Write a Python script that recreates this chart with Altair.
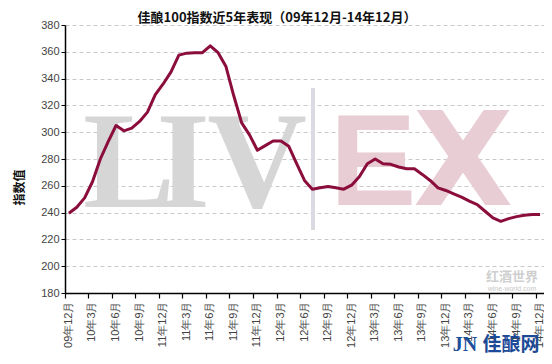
import json
import altair as alt
import pandas as pd

title_text = "佳酿100指数近5年表现（09年12月-14年12月）"
y_title = "指数值"

months = ["09年12月"] + [f"{y}年{m}月" for y in ["10", "11", "12", "13", "14"] for m in range(1, 13)]
tick_values = months[::3]
tick_labels = ["09年12月", "10年3月", "10年6月", "10年9月", "11年12月", "11年3月", "11年6月",
               "11年9月", "11年12月", "12年3月", "12年6月", "12年9月", "12年12月", "13年3月",
               "13年6月", "13年9月", "13年12月", "14年3月", "14年6月", "14年9月", "14年12月"]

values = [239.5, 244, 251, 263, 280, 293, 305, 301, 303, 308,
          315, 328, 336, 345, 357.5, 359, 359.3, 359.3, 364.5, 359.3,
          349, 327, 307, 298, 286.5, 290, 293.4, 293.4, 289.5, 276.5,
          264, 257.5, 258.5, 259.5, 258.5, 257.5, 260.5, 267, 276.5, 280,
          276.5, 276, 274, 272.7, 272.7, 268.5, 264, 258.5, 256.5, 254,
          251.5, 248.5, 246, 241, 236, 233.5, 235.5, 237, 238, 238.5, 238.5]

y_ticks = list(range(180, 381, 20))

df = pd.DataFrame({"month": months, "value": values})
one = pd.DataFrame({"a": [0]})

W, H = 479, 268

label_expr = (json.dumps(tick_labels, ensure_ascii=False)
              + "[indexof(" + json.dumps(tick_values, ensure_ascii=False) + ", datum.value)]")

line = alt.Chart(df).mark_line(color="#8b0d3b", strokeWidth=3, strokeJoin="round").encode(
    x=alt.X("month:O", sort=months,
            scale=alt.Scale(type="band", paddingInner=0, paddingOuter=0),
            axis=alt.Axis(values=tick_values, bandPosition=0, labelAngle=-90, title=None,
                          labelExpr=label_expr,
                          domainColor="black", domainWidth=1.5, tickColor="black",
                          tickSize=5, tickWidth=1.2, labelFontSize=11, labelColor="#444444",
                          labelFont="Liberation Sans", labelPadding=3, grid=False,
                          labelOverlap=False)),
    y=alt.Y("value:Q", scale=alt.Scale(domain=[180, 380], nice=False, zero=False),
            axis=alt.Axis(values=y_ticks, grid=True, gridDash=[4, 3], gridColor="#c8c8c8",
                          domainColor="black", domainWidth=1.5, tickColor="black", tickSize=4,
                          labelFontSize=11, labelColor="#444444", labelFont="Liberation Sans",
                          labelPadding=2,
                          title=y_title, titleFont="Noto Sans CJK SC", titleFontWeight="bold",
                          titleFontSize=12, titleColor="#111111", titleX=-46, titleY=162,
                          titleAngle=270, titleBaseline="middle", titleAlign="center")),
)

def letter(t, x, y, size, font, color, weight="bold"):
    return alt.Chart(one).mark_text(text=t, font=font, fontSize=size, fontWeight=weight,
                                    color=color, baseline="alphabetic", align="center").encode(
        x=alt.value(x), y=alt.value(y))

wm = [
    letter("L", 64, 182, 138, "Liberation Serif", "#d6d6d6"),
    letter("I", 118, 182, 138, "Liberation Serif", "#d6d6d6"),
    letter("V", 192, 182, 138, "Liberation Serif", "#d6d6d6"),
    letter("E", 308, 180, 130, "Liberation Sans", "#e8cdd5"),
    letter("X", 398, 180, 130, "DejaVu Sans", "#e8cdd5"),
]
bar = alt.Chart(one).mark_rule(color="#dadae2", strokeWidth=4).encode(
    x=alt.value(248), y=alt.value(63), y2=alt.value(205))

logo = [
    letter("红酒世界", 447, 256, 13, "Noto Sans CJK SC", "#cfcfcf"),
    letter("wine-world.com", 447, 266, 7, "Liberation Sans", "#c8c8c8", "normal"),
    letter("JN", 400, 326, 20, "Liberation Serif", "#1d4f9b"),
    letter("佳酿网", 446, 326, 19, "Noto Sans CJK SC", "#1d4a96"),
]

title = letter(title_text, 212, -3, 13, "Noto Sans CJK SC", "#111111")

chart = alt.layer(*wm, bar, *logo, title, line).properties(
    width=W, height=H,
    autosize=alt.AutoSizeParams(type="none"),
    padding={"left": 57, "top": 17, "right": 0, "bottom": 63},
).configure_view(stroke=None)

chart.save("out.html", embed_options={"renderer": "svg", "actions": False})
